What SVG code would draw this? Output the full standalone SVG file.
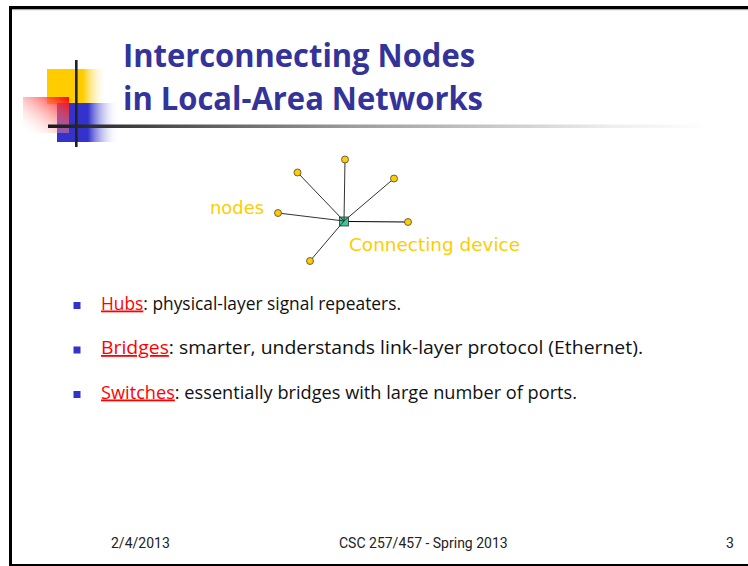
<svg xmlns="http://www.w3.org/2000/svg" width="748" height="566" viewBox="0 0 748 566">
<defs>
<linearGradient id="gYellow" x1="0" y1="0" x2="1" y2="0">
<stop offset="0" stop-color="#FFCC00"/><stop offset="0.6" stop-color="#FFCC00"/><stop offset="1" stop-color="#FFFFFF" stop-opacity="0"/>
</linearGradient>
<linearGradient id="gBlue" x1="0" y1="0" x2="1" y2="0">
<stop offset="0" stop-color="#3333CC"/><stop offset="0.5" stop-color="#3333CC"/><stop offset="1" stop-color="#FFFFFF" stop-opacity="0"/>
</linearGradient>
<linearGradient id="gRed" x1="1" y1="0" x2="0" y2="1">
<stop offset="0" stop-color="#FF0000"/><stop offset="1" stop-color="#FFFFFF" stop-opacity="0"/>
</linearGradient>
<linearGradient id="gLine" x1="48" y1="0" x2="712" y2="0" gradientUnits="userSpaceOnUse">
<stop offset="0" stop-color="#1a1a1a"/><stop offset="0.45" stop-color="#9a9a9a"/><stop offset="0.85" stop-color="#eeeeee"/><stop offset="1" stop-color="#ffffff"/>
</linearGradient>
<style>
.title{font-family:"Open Sans","Liberation Sans",Arial,sans-serif;font-weight:bold;font-size:32px;fill:#333399}
.body{font-family:"Open Sans","Liberation Sans",Arial,sans-serif;font-size:18px;fill:#111}
.key{fill:#FF0000;text-decoration:underline}
.foot{font-family:Roboto,"Liberation Sans",sans-serif;font-size:14px;fill:#222}
.lab{font-family:"DejaVu Sans","Liberation Sans",sans-serif;font-size:18px;fill:#FFCC00}
.bul{fill:#3333CC}
.node{fill:#FFCC00;stroke:#444;stroke-width:0.8}
.conn line{stroke:#333;stroke-width:1}
</style>
</defs>
<rect width="748" height="566" fill="#fff"/>
<!-- frame -->
<rect x="9" y="6" width="739" height="3" fill="#000"/>
<rect x="9" y="9" width="739" height="1.2" fill="#aaa"/>
<rect x="9" y="6" width="3" height="560" fill="#000"/>
<rect x="9" y="564" width="739" height="2" fill="#000"/>
<!-- logo -->
<g id="logo">
<rect x="47" y="69" width="60" height="35" fill="url(#gYellow)"/>
<rect x="57" y="103" width="62" height="39" fill="url(#gBlue)"/>
<rect x="23" y="97" width="46" height="36" fill="url(#gRed)"/>
<rect x="75" y="60" width="2.6" height="87" fill="#222"/>
<rect x="48" y="124.5" width="664" height="3.5" fill="url(#gLine)"/>
</g>
<g id="title">
<text class="title" x="123" y="67" textLength="352" lengthAdjust="spacingAndGlyphs">Interconnecting Nodes</text>
<text class="title" x="123" y="110" textLength="360" lengthAdjust="spacingAndGlyphs">in Local-Area Networks</text>
</g>
<!-- network -->
<g id="device">
<rect x="339.5" y="217" width="9" height="9" fill="#33CC99" stroke="#333" stroke-width="0.8"/>
</g>
<g id="connectors" class="conn">
<line x1="344" y1="221" x2="297.5" y2="172.5"/>
<line x1="344" y1="221" x2="345" y2="159.5"/>
<line x1="344" y1="221" x2="394" y2="178.5"/>
<line x1="344" y1="221" x2="278" y2="213"/>
<line x1="348.5" y1="221.5" x2="408" y2="222" style="stroke:#000"/>
<line x1="344" y1="221" x2="310" y2="261"/>
</g>
<g id="node1"><circle class="node" cx="297.5" cy="172.5" r="3.5"/></g>
<g id="node2"><circle class="node" cx="345" cy="159.5" r="3.5"/></g>
<g id="node3"><circle class="node" cx="394" cy="178.5" r="3.5"/></g>
<g id="node4"><circle class="node" cx="278" cy="213" r="3.5"/></g>
<g id="node5"><circle class="node" cx="408" cy="222" r="3.5"/></g>
<g id="node6"><circle class="node" cx="310" cy="261" r="3.5"/></g>
<g id="labels">
<text class="lab" x="210" y="214" textLength="54" lengthAdjust="spacingAndGlyphs">nodes</text>
<text class="lab" x="349" y="251" textLength="171" lengthAdjust="spacingAndGlyphs">Connecting device</text>
</g>
<!-- bullets -->
<g id="bullets">
<rect class="bul" x="73.5" y="302" width="7" height="7"/>
<rect class="bul" x="73.5" y="346.5" width="7" height="7"/>
<rect class="bul" x="73.5" y="391" width="7" height="7"/>
<text class="body" x="101" y="309.5" textLength="300" lengthAdjust="spacingAndGlyphs"><tspan class="key">Hubs</tspan>: physical-layer signal repeaters.</text>
<text class="body" x="101" y="354" textLength="542" lengthAdjust="spacingAndGlyphs"><tspan class="key">Bridges</tspan>: smarter, understands link-layer protocol (Ethernet).</text>
<text class="body" x="101" y="398.5" textLength="476" lengthAdjust="spacingAndGlyphs"><tspan class="key">Switches</tspan>: essentially bridges with large number of ports.</text>
</g>
<g id="footer">
<text class="foot" x="111" y="548">2/4/2013</text>
<text class="foot" x="339" y="548">CSC 257/457 - Spring 2013</text>
<text class="foot" x="726" y="548">3</text>
</g>
</svg>
